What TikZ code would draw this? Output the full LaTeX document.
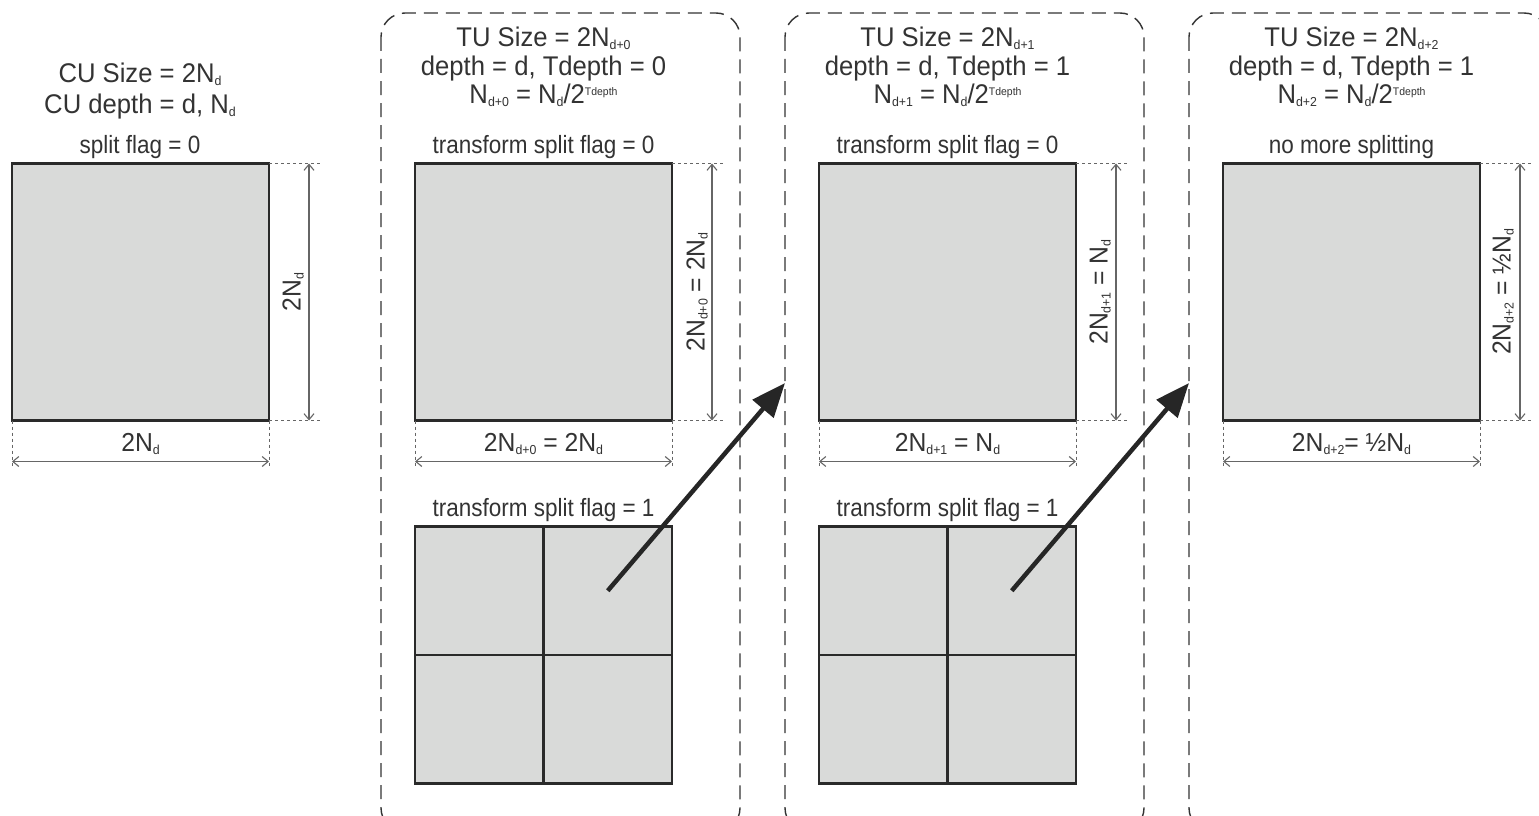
\documentclass[tikz,border=0pt]{standalone}
\usepackage{fontspec}
\setmainfont{Liberation Sans}
\newfontfamily\headfont[FakeStretch=0.95]{Liberation Sans}
\newfontfamily\labfont[FakeStretch=0.9]{Liberation Sans}
\usetikzlibrary{arrows.meta}
\definecolor{ink}{HTML}{333333}
\definecolor{blockfill}{HTML}{D9DAD9}
\definecolor{blockline}{HTML}{2A2A2A}
\definecolor{dimgray}{HTML}{666666}
% small lowered / raised text for indices
\newcommand\lo[1]{\raisebox{-3pt}{\fontsize{13}{13}\selectfont #1}}
\newcommand\hi[1]{\raisebox{7.5pt}{\fontsize{11}{11}\selectfont #1}}
\tikzset{
  head/.style={text=ink, font=\headfont\fontsize{27}{30}\selectfont, inner sep=0pt, anchor=base},
  lbl/.style={text=ink, font=\labfont\fontsize{25}{28}\selectfont, inner sep=0pt, anchor=base},
  dimlbl/.style={text=ink, font=\headfont\fontsize{26}{28}\selectfont, inner sep=0pt},
  block/.style={draw=blockline, fill=blockfill, line width=2.5pt, minimum size=257pt, inner sep=0pt, outer sep=0pt},
  quad/.style={draw=blockline, fill=blockfill, line width=2.5pt, minimum size=128.5pt, inner sep=0pt, outer sep=0pt},
  ext/.style={draw=dimgray, line width=0.9pt, dash pattern=on 3pt off 3pt},
  dimarrow/.style={draw=dimgray, line width=1.1pt, {Straight Barb[length=6pt,width=10pt]}-{Straight Barb[length=6pt,width=10pt]}},
  tubox/.style={draw=ink, line width=1.4pt, dash pattern=on 14pt off 8pt, rounded corners=24pt},
  jump/.style={draw=black!85, line width=4.5pt, -{Triangle[length=34pt,width=27pt]}}
}
\begin{document}
\begin{tikzpicture}[x=1pt,y=-1pt]
\clip (0,0) rectangle (1539,816);
\fill[white] (0,0) rectangle (1539,816);

% dashed frames of the transform units
\draw[tubox] (381,13) rectangle (740,832);
\draw[tubox] (785,13) rectangle (1144,832);
\draw[tubox] (1189,13) rectangle (1548,832);

% ---------- coding unit ----------
\node[head] (cu1) at (140,82) {CU Size = 2N\lo{d}};
\node[head] (cu2) at (140,113) {CU depth = d, N\lo{d}};
\node[lbl] (cu3) at (140,153) {split flag = 0};
\node[block] (s0) at (140.5,292) {};
\draw[ext] (s0.north east) -- ++(52,0);
\draw[ext] (s0.south east) -- ++(52,0);
\draw[ext] (s0.south west) -- ++(0,47);
\draw[ext] (s0.south east) -- ++(0,47);
\draw[dimarrow] ([xshift=40pt]s0.north east) -- ([xshift=40pt]s0.south east);
\draw[dimarrow] ([yshift=-41pt]s0.south west) -- ([yshift=-41pt]s0.south east);
\node[dimlbl, rotate=90] (h0) at (293,292) {2N\lo{d}};
\node[dimlbl] (w0) at (140.5,444) {2N\lo{d}};

% ---------- transform unit, Tdepth 0 ----------
\node[head] (a1) at (543.5,47) {TU Size = 2N\lo{d+0}};
\node[head] (a2) at (543.5,75) {depth = d, Tdepth = 0};
\node[head] (a3) at (543.5,103) {N\lo{d+0} = N\lo{d}/2\hi{Tdepth}};
\node[lbl] (a4) at (543.5,153) {transform split flag = 0};
\node[block] (s1) at (543.5,292) {};
\draw[ext] (s1.north east) -- ++(52,0);
\draw[ext] (s1.south east) -- ++(52,0);
\draw[ext] (s1.south west) -- ++(0,47);
\draw[ext] (s1.south east) -- ++(0,47);
\draw[dimarrow] ([xshift=40pt]s1.north east) -- ([xshift=40pt]s1.south east);
\draw[dimarrow] ([yshift=-41pt]s1.south west) -- ([yshift=-41pt]s1.south east);
\node[dimlbl, rotate=90] (h1) at (697,292) {2N\lo{d+0} = 2N\lo{d}};
\node[dimlbl] (w1) at (543.5,444) {2N\lo{d+0} = 2N\lo{d}};
\node[lbl] (a5) at (543.5,516) {transform split flag = 1};
\node[quad] (p1a) at (479.25,590.75) {};
\node[quad] (p1b) at (607.75,590.75) {};
\node[quad] (p1c) at (479.25,719.25) {};
\node[quad] (p1d) at (607.75,719.25) {};

% ---------- transform unit, Tdepth 1 ----------
\node[head] (b1) at (947.5,47) {TU Size = 2N\lo{d+1}};
\node[head] (b2) at (947.5,75) {depth = d, Tdepth = 1};
\node[head] (b3) at (947.5,103) {N\lo{d+1} = N\lo{d}/2\hi{Tdepth}};
\node[lbl] (b4) at (947.5,153) {transform split flag = 0};
\node[block] (s2) at (947.5,292) {};
\draw[ext] (s2.north east) -- ++(52,0);
\draw[ext] (s2.south east) -- ++(52,0);
\draw[ext] (s2.south west) -- ++(0,47);
\draw[ext] (s2.south east) -- ++(0,47);
\draw[dimarrow] ([xshift=40pt]s2.north east) -- ([xshift=40pt]s2.south east);
\draw[dimarrow] ([yshift=-41pt]s2.south west) -- ([yshift=-41pt]s2.south east);
\node[dimlbl, rotate=90] (h2) at (1100,292) {2N\lo{d+1} = N\lo{d}};
\node[dimlbl] (w2) at (947.5,444) {2N\lo{d+1} = N\lo{d}};
\node[lbl] (b5) at (947.5,516) {transform split flag = 1};
\node[quad] (p2a) at (883.25,590.75) {};
\node[quad] (p2b) at (1011.75,590.75) {};
\node[quad] (p2c) at (883.25,719.25) {};
\node[quad] (p2d) at (1011.75,719.25) {};

% ---------- transform unit, Tdepth 1, leaf ----------
\node[head] (c1) at (1351.5,47) {TU Size = 2N\lo{d+2}};
\node[head] (c2) at (1351.5,75) {depth = d, Tdepth = 1};
\node[head] (c3) at (1351.5,103) {N\lo{d+2} = N\lo{d}/2\hi{Tdepth}};
\node[lbl] (c4) at (1351.5,153) {no more splitting};
\node[block] (s3) at (1351.5,292) {};
\draw[ext] (s3.north east) -- ++(52,0);
\draw[ext] (s3.south east) -- ++(52,0);
\draw[ext] (s3.south west) -- ++(0,47);
\draw[ext] (s3.south east) -- ++(0,47);
\draw[dimarrow] ([xshift=40pt]s3.north east) -- ([xshift=40pt]s3.south east);
\draw[dimarrow] ([yshift=-41pt]s3.south west) -- ([yshift=-41pt]s3.south east);
\node[dimlbl, rotate=90] (h3) at (1503,292) {2N\lo{d+2} = ½N\lo{d}};
\node[dimlbl] (w3) at (1351.5,444) {2N\lo{d+2}= ½N\lo{d}};

% ---------- links to the next transform level ----------
\coordinate (t1) at (785,383);
\coordinate (t2) at (1189,383);
\draw[jump] (p1b.center) -- (t1);
\draw[jump] (p2b.center) -- (t2);
\end{tikzpicture}
\end{document}
